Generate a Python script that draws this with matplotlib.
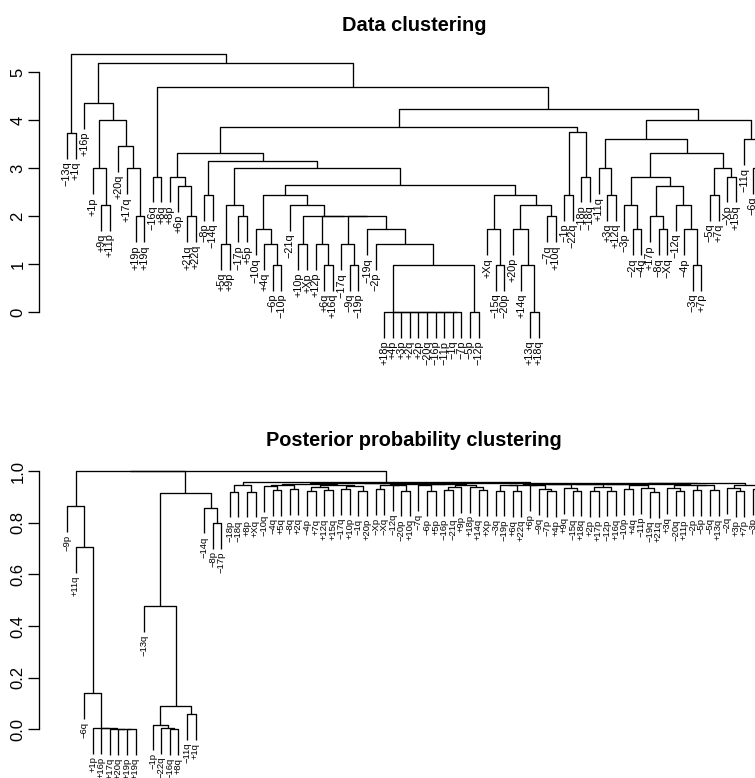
import matplotlib
matplotlib.use('Agg')
import matplotlib.pyplot as plt
import matplotlib.transforms as mtransforms

plt.rcParams['font.family'] = ['Liberation Sans', 'DejaVu Sans']

# ---- Data clustering (top): nodes are (left, right, merge height) ----
zero_chain = ('+18p', ('+4p', ('+3p', ('+2q', ('+2p', ('-20q', ('-16p', ('-11p', ('-1q', '-7p', 0.0),
              0.0), 0.0), 0.0), 0.0), 0.0), 0.0), 0.0), 0.0)
t_a = ('-13q', '+1q', 3.73)
t_b = ('+16p', (('+1p', ('+9q', '+11p', 2.23), 2.99),
                ('+20q', ('+17q', ('+19p', '+19q', 1.99), 2.99), 3.45), 4.0), 4.35)
t_c = ('-16q', '+8q', 2.82)
t_i = (('+10p', '+Xp', 1.41),
       (('+12p', ('+6q', '+16q', 0.98), 1.41),
        (('-17q', ('-9q', '-19p', 0.98), 1.41),
         ('-19q', ('-2p', (zero_chain, ('-5p', '-12p', 0.0), 0.98), 1.41), 1.72), 1.99), 1.99), 1.99)
t_g = (('-10q', ('+4q', ('-6p', '-10p', 0.98), 1.41), 1.72), ('-21q', t_i, 2.23), 2.44)
t_h = (('+Xq', ('-15q', '-20p', 0.98), 1.72),
       (('+20p', ('+14q', ('+13q', '+18q', 0.0), 0.98), 1.72), ('-7q', '+10q', 1.99), 2.23), 2.44)
t_e = (('-8p', '-14q', 2.44),
       ((('+5q', '+9p', 1.41), ('-17p', '+5p', 1.99), 2.22), (t_g, t_h, 2.64), 2.99), 3.15)
t_d = (('+8p', ('+6p', ('+21q', '+22q', 1.99), 2.63), 2.82), t_e, 3.31)
t_j = (('-1p', '-22q', 2.44), ('-18p', '-18q', 2.82), 3.74)
t_m = (('-3p', ('-2q', '-4q', 1.72), 2.23),
       (('+17p', ('-8q', '-Xq', 1.72), 1.99), ('-12q', ('-4p', ('-3q', '+7p', 0.98), 1.72), 2.23), 2.63), 2.82)
t_l = (('+11q', ('+3q', '+12q', 2.44), 2.99),
       (t_m, (('-5q', '+7q', 2.44), ('-Xp', '+15q', 2.82), 2.99), 3.31), 3.6)
t_n = ('-11q', ('-6q', '-9p', 3.0), 3.6)
top_tree = (t_a, (t_b, (t_c, ((t_d, t_j, 3.86), (t_l, t_n, 3.99), 4.22), 4.68), 5.18), 5.375)

# ---- Posterior probability clustering (bottom) ----
b_a = ('-9p', ('+11q', ('-6q', ('+1p', ('+16p', ('+17q', ('+20q', ('+19p', '+19q', 0.0), 0.001), 0.002),
       0.004), 0.006), 0.14), 0.707), 0.864)
b_b = (('-13q', (('-1p', ('-22q', ('-16q', '+8q', 0.0), 0.004), 0.018), ('-11q', '+1q', 0.059), 0.09), 0.476),
       ('-14q', ('-8p', '-17p', 0.80), 0.859), 0.917)
g1 = (('-18p', '-18q', 0.921), ('+8p', '+Xq', 0.921), 0.945)
g2 = ('-10q', ('-4q', '+5q', 0.928), 0.943)
g3 = ('-8q', '+2q', 0.93)
g4 = (('-4p', '+7q', 0.925), ('+12q', '+15q', 0.928), 0.94)
g5 = (('-17q', '+10p', 0.93), ('-1q', '+20p', 0.925), 0.942)
g6 = ('-Xp', '-Xq', 0.93)
g7 = ('-12q', ('-20p', '+10q', 0.925), 0.945)
g8 = ('-7q', ('-6p', '+5p', 0.925), 0.946)
g9 = (('-16p', '-21q', 0.928), '+9p', 0.938)
g10 = ('+18p', ('+14q', '+Xp', 0.926), 0.94)
g11 = (('-3q', '-19p', 0.925), ('+6q', '+22q', 0.922), 0.945)
g12 = ('+6p', ('-9q', ('-7p', '+4p', 0.922), 0.93), 0.945)
g13 = ('+9q', ('-15q', '+18q', 0.925), 0.935)
g14 = (('+2p', '+17p', 0.922), ('-12p', '+16q', 0.925), 0.94)
g15 = ('-10p', '+4q', 0.93)
g16 = ('-11p', ('-19q', '+21q', 0.92), 0.935)
g17 = ('+3q', ('-20q', '+11p', 0.925), 0.935)
g18 = (('-2p', '-5p', 0.928), ('-5q', '+13q', 0.928), 0.945)
g19 = ('-2q', ('+3p', '+7p', 0.922), 0.935)
g20 = ('-3p', '+12p', 0.93)
m1 = (((g2, g3, 0.947), (g4, g5, 0.948), 0.95), ((g6, g7, 0.948), (g8, (g9, g10, 0.947), 0.949), 0.951), 0.953)
m2 = (((((g11, g12, 0.948), g13, 0.949), g14, 0.95), (g15, g16, 0.947), 0.951), (g17, g18, 0.948), 0.952)
m2 = (m2, (g19, g20, 0.946), 0.953)
b_c = (g1, (m1, m2, 0.955), 0.957)
bottom_tree = ((b_a, b_b, 1.0), b_c, 1.0)

W, H = 755, 778
fig = plt.figure(figsize=(W / 100, H / 100), dpi=100)


def draw_dend(ax, tree, hang, fs):
    order = []

    def collect(n):
        if isinstance(n, str):
            order.append(n)
        else:
            collect(n[0])
            collect(n[1])
    collect(tree)
    pos = {name: i + 1 for i, name in enumerate(order)}
    off = mtransforms.ScaledTranslation(0, -2 / 72, fig.dpi_scale_trans)

    def walk(n):
        if isinstance(n, str):
            return pos[n], None
        h = n[2]
        pts = []
        for child in n[:2]:
            x, y = walk(child)
            if y is None:
                y = h - hang
                ax.text(x, y, child.replace('-', '\u2212'), rotation=90, ha='center', va='top',
                        fontsize=fs, transform=ax.transData + off, clip_on=False)
            pts.append((x, y))
        (xl, yl), (xr, yr) = pts
        ax.plot([xl, xl, xr, xr], [yl, h, h, yr], color='black', lw=0.95, solid_capstyle='butt',
                clip_on=False)
        return (xl + xr) / 2, h
    walk(tree)
    return len(order)


def make_axes(y0px, ppu, ylo, yhi):
    top_px = y0px - yhi * ppu
    bot_px = y0px - ylo * ppu
    ax = fig.add_axes([39.2 / W, 1 - bot_px / H, 750 / W, (bot_px - top_px) / H])
    ax.set_ylim(ylo, yhi)
    ax.set_xlim(-2.24, 85.24)
    for s in ['top', 'right', 'bottom']:
        ax.spines[s].set_visible(False)
    ax.set_xticks([])
    ax.tick_params(axis='y', length=8, width=0.95, labelsize=12, pad=2)
    ax.spines['left'].set_linewidth(0.95)
    return ax


ax1 = make_axes(312, 48, -0.77, 5.61)
draw_dend(ax1, top_tree, 0.1 * 5.375, 7.8)
ax1.set_yticks(range(6))
ax1.spines['left'].set_bounds(0, 5)
plt.setp(ax1.get_yticklabels(), rotation=90, va='center')

ax2 = make_axes(729.3, 258, -0.144, 1.044)
draw_dend(ax2, bottom_tree, 0.1, 6.8)
ax2.set_yticks([0, 0.2, 0.4, 0.6, 0.8, 1.0])
ax2.set_yticklabels(['0.0', '0.2', '0.4', '0.6', '0.8', '1.0'])
ax2.spines['left'].set_bounds(0, 1)
plt.setp(ax2.get_yticklabels(), rotation=90, va='center')

fig.text(414 / W, 1 - 31 / H, 'Data clustering', ha='center', va='baseline',
         fontsize=14.4, fontweight='bold')
fig.text(414 / W, 1 - 446 / H, 'Posterior probability clustering', ha='center', va='baseline',
         fontsize=14.4, fontweight='bold')

fig.savefig('out.png', dpi=100)
